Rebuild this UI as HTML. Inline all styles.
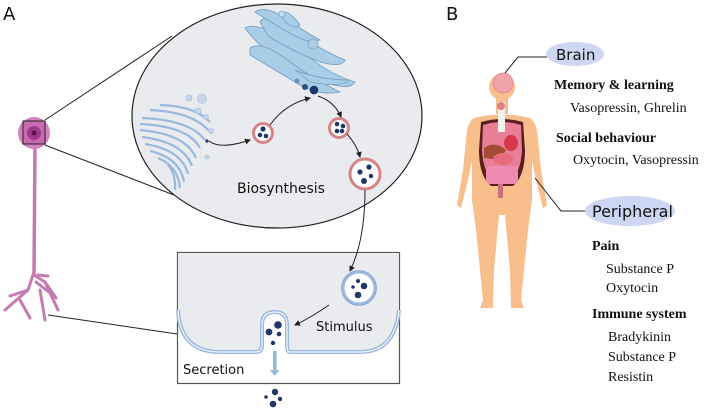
<!DOCTYPE html>
<html><head><meta charset="utf-8"><style>
html,body{margin:0;padding:0;background:#fff;width:714px;height:410px;overflow:hidden}
svg{display:block}
.s{font-family:"DejaVu Sans","Liberation Sans",sans-serif}
.r{font-family:"Liberation Serif",serif;fill:#111}
</style></head><body>
<svg width="714" height="410" viewBox="0 0 714 410" xmlns="http://www.w3.org/2000/svg">
<defs>
<marker id="ar" markerWidth="6" markerHeight="6" refX="5" refY="3" orient="auto"><path d="M0,0 L6,3 L0,6 z" fill="#222"/></marker>
</defs>
<text x="3" y="20" class="s" font-size="18" fill="#111">A</text>
<text x="446" y="20" class="s" font-size="18" fill="#111">B</text>

<line x1="45" y1="120" x2="172" y2="36" stroke="#222" stroke-width="1"/>
<line x1="45" y1="145" x2="192" y2="202" stroke="#222" stroke-width="1"/>
<line x1="48" y1="315" x2="177" y2="334" stroke="#222" stroke-width="1"/>

<ellipse cx="277" cy="116" rx="145" ry="112" fill="#e9ebef" stroke="#222" stroke-width="1.2"/>

<path d="M35,145 L34,275" stroke="#c57ab0" stroke-width="3.5" fill="none"/>
<g stroke="#c57ab0" stroke-width="3" fill="none" stroke-linecap="round">
<path d="M34,272 L28,290 L10,296"/><path d="M28,290 L5,310"/><path d="M20,300 L30,318"/>
<path d="M34,275 L45,282 L56,298"/><path d="M45,282 L58,310"/><path d="M40,290 L45,320"/>
<path d="M38,275 L48,276"/><path d="M36,282 L50,293"/>
</g>
<circle cx="34" cy="133" r="16" fill="#d482bd"/>
<rect x="23" y="121" width="22" height="23" fill="#c76aaf" stroke="#222" stroke-width="1"/>
<circle cx="34" cy="133" r="7" fill="#a0388b"/>
<circle cx="34" cy="133" r="2.5" fill="#5a1650"/>

<g fill="#a9cde6" stroke="#6e9fc6" stroke-width="0.8">
<path d="M245,28 Q260,20 300,50 Q330,75 355,82 Q350,90 330,84 Q300,76 275,58 Q255,42 245,28z"/>
<path d="M260,22 Q268,10 290,28 Q320,50 345,60 Q342,68 320,62 Q290,50 268,36z"/>
<path d="M250,48 Q262,40 290,62 Q315,80 340,92 Q320,96 300,85 Q275,70 250,55z"/>
<path d="M255,12 Q265,5 285,18 Q305,32 320,40 Q310,44 295,36 Q270,22 255,12z"/>
<path d="M280,12 Q290,10 300,25 Q295,30 285,22z"/>
<path d="M295,70 Q320,80 350,80 Q340,88 310,82z"/>
</g>
<circle cx="282" cy="14" r="3" fill="#c6dbee" stroke="#6e9fc6" stroke-width="0.6"/>
<circle cx="313" cy="44" r="5" fill="#a9cde6" stroke="#6e9fc6" stroke-width="0.6"/>
<circle cx="297" cy="81" r="2.5" fill="#6e8fbf"/>
<circle cx="305" cy="87" r="3" fill="#2e4d80"/>
<circle cx="314" cy="90" r="4.5" fill="#1f3768" stroke="#9cc" stroke-width="0.5"/>

<g fill="none" stroke="#9ab9de" stroke-width="2.2">
<path d="M142,118 Q190,120 205,140"/>
<path d="M140,124 Q188,126 200,148"/>
<path d="M140,130 Q186,134 196,158"/>
<path d="M142,137 Q183,142 192,166"/>
<path d="M145,144 Q182,150 188,174"/>
<path d="M150,151 Q180,158 184,182"/>
<path d="M158,158 Q178,166 180,188"/>
<path d="M168,165 Q176,174 175,190"/>
<path d="M150,110 Q192,112 208,130"/>
<path d="M160,105 Q195,106 210,122"/>
</g>
<g fill="#c7d6ec" stroke="#9ab9de" stroke-width="0.6">
<circle cx="189" cy="98" r="3"/><circle cx="202" cy="99" r="4.5"/><circle cx="198" cy="111" r="3"/><circle cx="206" cy="117" r="2.5"/><circle cx="211" cy="131" r="2.5"/><circle cx="207" cy="157" r="2"/>
</g>
<circle cx="207" cy="141" r="1.6" fill="#1f3768"/>

<g fill="#fff" stroke="#d58585" stroke-width="3">
<circle cx="263" cy="133" r="9.5"/><circle cx="339" cy="128" r="9.5"/><circle cx="365" cy="174" r="15"/>
</g>
<g fill="#1f3768">
<circle cx="263" cy="129" r="2.6"/><circle cx="260" cy="135" r="2.3"/><circle cx="266" cy="136" r="2.3"/>
<circle cx="337" cy="124" r="2.3"/><circle cx="343" cy="126" r="2.3"/><circle cx="337" cy="131" r="2.3"/><circle cx="342" cy="131" r="2.3"/>
<circle cx="360" cy="172" r="2.6"/><circle cx="369" cy="167" r="2.6"/><circle cx="371" cy="176" r="2.2"/><circle cx="364" cy="181" r="3"/>
</g>
<text x="237" y="193" class="s" font-size="14" fill="#111">Biosynthesis</text>

<rect x="177.5" y="252.5" width="222" height="131" fill="#fff" stroke="#555" stroke-width="1.2"/>
<path d="M178,253 L399,253 L399,310 Q395,352 360,352 L290,352 Q287,352 287,345 L287,325 Q287,312 275,312 Q262,312 262,325 L262,345 Q262,352 256,352 L220,352 Q180,352 178,310 Z" fill="#e9ebef"/>
<path d="M178,310 Q180,352 220,352 L256,352 Q262,352 262,345 L262,325 Q262,312 275,312 Q287,312 287,325 L287,345 Q287,352 290,352 L360,352 Q395,352 399,310" fill="none" stroke="#9ab9de" stroke-width="4"/>
<path d="M178,310 Q180,352 220,352 L256,352 Q262,352 262,345 L262,325 Q262,312 275,312 Q287,312 287,325 L287,345 Q287,352 290,352 L360,352 Q395,352 399,310" fill="none" stroke="#f4f6fa" stroke-width="1.2"/>
<circle cx="359" cy="288" r="16" fill="#fff" stroke="#9ab9de" stroke-width="3"/>
<circle cx="359" cy="288" r="17.5" fill="none" stroke="#7c98c0" stroke-width="0.6"/>
<g fill="#1f3768">
<circle cx="358" cy="281" r="2"/><circle cx="353" cy="287" r="1.8"/><circle cx="364" cy="286" r="3.3"/><circle cx="358" cy="295" r="3.3"/>
<circle cx="278" cy="325" r="3.8"/><circle cx="269" cy="332" r="3.4"/><circle cx="279" cy="334" r="2.3"/><circle cx="273" cy="343" r="2.2"/>
<circle cx="275" cy="392" r="3.2"/><circle cx="266" cy="397" r="1.8"/><circle cx="280" cy="399" r="2.2"/><circle cx="273" cy="404" r="3.3"/>
</g>
<rect x="273" y="351" width="3.5" height="20" fill="#8fbbd8"/>
<path d="M270,370 L279.5,370 L274.75,376 z" fill="#8fbbd8"/>
<text x="316" y="331" class="s" font-size="13" fill="#111">Stimulus</text>
<text x="183" y="374" class="s" font-size="13" fill="#111">Secretion</text>

<g fill="none" stroke="#222" stroke-width="1" marker-end="url(#ar)">
<path d="M209,141 Q220,150 250,140"/>
<path d="M270,125 Q285,104 310,98"/>
<path d="M318,96 Q335,102 341,117"/>
<path d="M347,134 Q357,145 360,157"/>
<path d="M365,190 Q365,240 350,271"/>
<path d="M329,305 Q310,318 295,325"/>
</g>

<!-- Body -->
<g fill="#f8be8c">
<circle cx="502" cy="87" r="13"/>
<rect x="496" y="98" width="12" height="16"/>
<path d="M474,118 Q502,111 530,118 Q537,122 538,140 L541,170 L547,205 L543,208 L536,180 L532,160 L532,200 L528,230 L525,260 L521,300 L524,308 L511,308 L510,270 L505,215 L499,215 L494,270 L493,308 L480,308 L483,300 L479,260 L476,230 L472,200 L472,160 L468,180 L461,208 L457,205 L463,170 L466,140 Q467,122 474,118 z"/>
</g>
<circle cx="503" cy="83" r="10" fill="#f0a3a8" stroke="#e07f8a" stroke-width="0.8"/>
<path d="M481,122 Q502,116 523,122 L525,150 Q525,176 513,186 L491,186 Q479,176 479,150 z" fill="#5a1e1e"/>
<path d="M483,125 Q502,119 521,125 L522,150 Q521,172 510,182 L494,182 Q483,172 482,150 z" fill="#e97e96"/>
<rect x="498" y="102" width="7" height="30" fill="#f3f0ee"/>
<circle cx="501" cy="106" r="4" fill="#e0808a"/>
<ellipse cx="511" cy="143" rx="7" ry="8" fill="#d8364a"/>
<path d="M484,148 Q495,140 506,150 L500,160 L484,158z" fill="#a34d35"/>
<ellipse cx="503" cy="159" rx="10" ry="6" fill="#e56b7e"/>
<rect x="486" y="166" width="32" height="18" rx="4" fill="#ef8bb0"/>
<path d="M498,184 L498,198 L503,198 L503,184z" fill="#cc6e7c"/>

<polyline points="505,73 518,57 547,57" fill="none" stroke="#222" stroke-width="1"/>
<ellipse cx="575" cy="54" rx="29" ry="12" fill="#cdd6f2"/>
<text x="556" y="60" class="s" font-size="15" fill="#111">Brain</text>
<polyline points="535,178 561,211 586,211" fill="none" stroke="#222" stroke-width="1"/>
<ellipse cx="630" cy="211" rx="45" ry="15" fill="#cdd6f2"/>
<text x="592" y="217" class="s" font-size="16" fill="#111">Peripheral</text>

<g class="r" font-size="14">
<text x="554" y="89" font-weight="bold">Memory &amp; learning</text>
<text x="570" y="112">Vasopressin, Ghrelin</text>
<text x="556" y="142" font-weight="bold">Social behaviour</text>
<text x="573" y="164">Oxytocin, Vasopressin</text>
<text x="592" y="250" font-weight="bold">Pain</text>
<text x="606" y="273">Substance P</text>
<text x="606" y="292">Oxytocin</text>
<text x="592" y="318" font-weight="bold">Immune system</text>
<text x="608" y="341">Bradykinin</text>
<text x="608" y="361">Substance P</text>
<text x="608" y="381">Resistin</text>
</g>
</svg>
</body></html>
